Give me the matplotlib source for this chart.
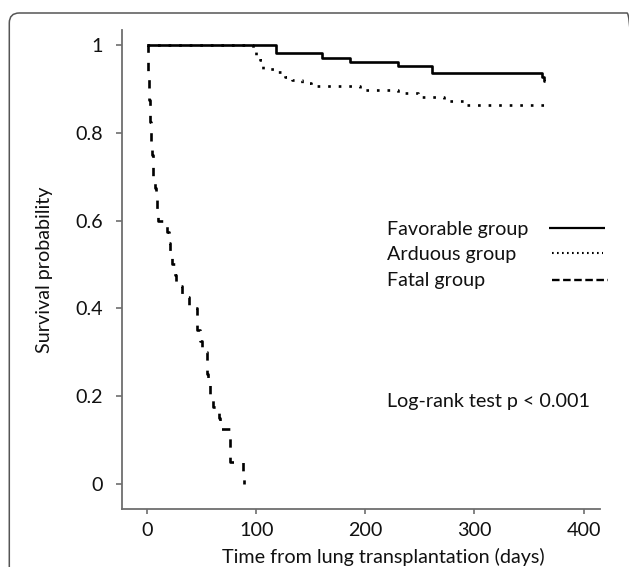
import matplotlib
matplotlib.use("Agg")
import matplotlib.pyplot as plt
from matplotlib.patches import FancyBboxPatch
from matplotlib.lines import Line2D

# ---------------- data ----------------
fav_times = [0, 118, 160, 186, 230, 261, 362, 364, 365]
fav_surv = [1.0, 0.981, 0.970, 0.962, 0.953, 0.936, 0.926, 0.917, 0.917]

ard_times = [0, 97, 100, 103, 106, 118, 126, 133, 142, 150, 195, 230, 248, 272, 290, 365]
ard_surv = [1.0, 0.99, 0.978, 0.966, 0.946, 0.938, 0.926, 0.92, 0.913, 0.907,
            0.898, 0.890, 0.881, 0.873, 0.863, 0.863]

fatal_times = [0, 0.3, 0.6, 0.9, 1.3, 1.8, 2.2, 2.6, 3.1, 3.6, 4.2, 4.8, 5.5, 7, 8, 9, 10,
               18, 19.5, 21, 22.5, 25, 26, 31.5, 38.5, 45.5, 46, 48, 50, 54.5, 55, 56,
               57.5, 60, 66, 67, 76, 87.5, 89]
fatal_surv = [1.0, 0.975, 0.95, 0.925, 0.9, 0.875, 0.85, 0.825, 0.8, 0.775, 0.75, 0.725,
              0.7, 0.675, 0.65, 0.625, 0.6, 0.575, 0.55, 0.525, 0.5, 0.475, 0.45, 0.425,
              0.4, 0.375, 0.35, 0.325, 0.3, 0.275, 0.25, 0.225, 0.2, 0.175, 0.15, 0.125,
              0.05, 0.025, 0.0]

x_ticks = [0, 100, 200, 300, 400]
y_ticks = [0, 0.2, 0.4, 0.6, 0.8, 1.0]
y_ticklabels = ["0", "0.2", "0.4", "0.6", "0.8", "1"]
group_labels = ["Favorable group", "Arduous group", "Fatal group"]
test_text = "Log-rank test p < 0.001"
xlabel = "Time from lung transplantation (days)"
ylabel = "Survival probability"

# ---------------- figure ----------------
W, H = 629, 567
plt.rcParams['font.family'] = ['Lato', 'DejaVu Sans']
FS = 14.2
fig = plt.figure(figsize=(W / 100, H / 100), dpi=100)


def fx(px):
    return px / W


def fy(py):
    return 1 - py / H


ax_l, ax_r, ax_t, ax_b = 122, 600, 30, 508.7
ax = fig.add_axes([fx(ax_l), fy(ax_b), (ax_r - ax_l) / W, (ax_b - ax_t) / H])
ax.set_xlim(-23.2, 415.1)
ax.set_ylim(-0.0563, 1.034)

spine_c = "#6e6e6e"
for s in ["top", "right"]:
    ax.spines[s].set_visible(False)
for s in ["left", "bottom"]:
    ax.spines[s].set_color(spine_c)
    ax.spines[s].set_linewidth(1.3)

ax.set_xticks(x_ticks)
ax.set_xticklabels([str(v) for v in x_ticks])
ax.set_yticks(y_ticks)
ax.set_yticklabels(y_ticklabels)
ax.tick_params(axis='x', length=3.4, width=1.2, color=spine_c, pad=6, labelsize=FS,
               labelcolor="#111111")
ax.tick_params(axis='y', length=4.5, width=1.2, color=spine_c, pad=9, labelsize=FS,
               labelcolor="#111111")

lw = 1.9
ax.step(fav_times, fav_surv, where='post', color='black', lw=lw, solid_capstyle='butt')
ax.step(ard_times, ard_surv, where='post', color='black', lw=lw,
        linestyle=(0, (1.0, 3.0)))
ax.step(fatal_times, fatal_surv, where='post', color='black', lw=lw,
        linestyle=(0, (3.15, 3.8)))

# legend (text left-aligned, samples right-aligned)
tx = 386.7
baselines = [235, 260, 286]
line_y = [227.7, 252.7, 280]
styles = [dict(ls='-', lw=1.6), dict(ls=(0, (0.8, 1.6)), lw=1.5),
          dict(ls=(0, (3.2, 1.5)), lw=1.7)]
x_starts = [549, 551.7, 551.7]
x_ends = [605, 603.3, 608]
for lab, b, ly, st, xs, xe in zip(group_labels, baselines, line_y, styles, x_starts, x_ends):
    fig.text(fx(tx), fy(b), lab, fontsize=FS, ha='left', va='baseline', color='#111111')
    fig.add_artist(Line2D([fx(xs), fx(xe)], [fy(ly), fy(ly)], color='black',
                          transform=fig.transFigure, solid_capstyle='butt', **st))

fig.text(fx(tx), fy(407.5), test_text, fontsize=FS, ha='left', va='baseline',
         color='#111111')

fig.text(fx(383), fy(563), xlabel, fontsize=FS, ha='center', va='baseline',
         color='#111111')
fig.text(fx(45), fy(270), ylabel, fontsize=FS, ha='center', va='center',
         rotation=90, color='#111111')

# rounded frame around the panel (extends beyond right and bottom edges)
frame = FancyBboxPatch((0.093, -0.3), 6.37 - 0.093, 5.54 + 0.3,
                       boxstyle="round,pad=0,rounding_size=0.1",
                       transform=fig.dpi_scale_trans, fill=False,
                       edgecolor="#555555", linewidth=1.1)
fig.patches.append(frame)

fig.savefig("out.png", dpi=100)
